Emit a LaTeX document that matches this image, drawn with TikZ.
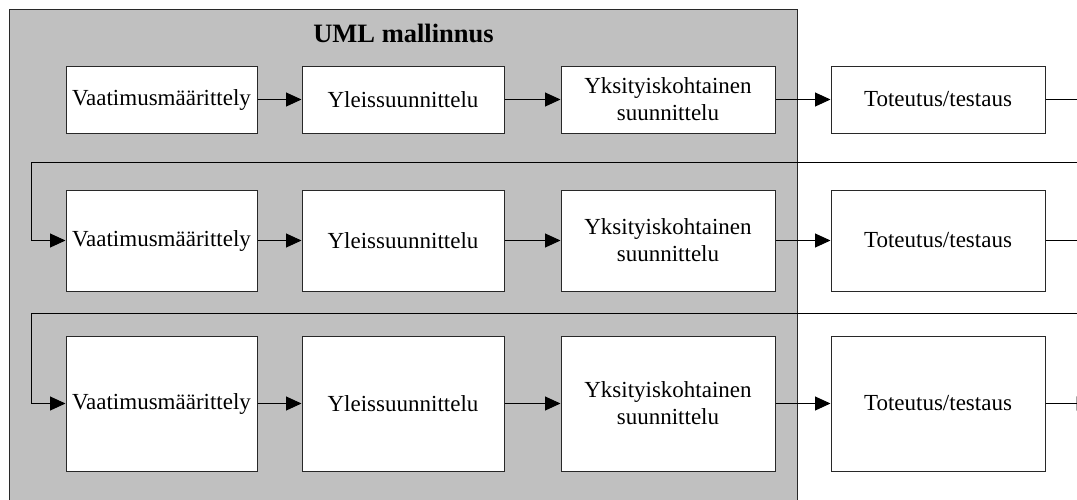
\documentclass[tikz,border=0pt]{standalone}
\usepackage{fontspec}
\setmainfont{Liberation Serif}
\usetikzlibrary{arrows.meta}
\definecolor{panelgray}{RGB}{192,192,192}
\definecolor{edge}{RGB}{40,40,40}
\begin{document}
\begin{tikzpicture}[x=1pt,y=-1pt,
  stage/.style={draw=edge, line width=1pt, fill=white, align=center,
    inner sep=0pt, font=\fontsize{23}{27}\selectfont},
  wire/.style={draw=black, line width=1pt},
  flow/.style={wire, -{Triangle[length=15.5pt,width=14pt]}},
]
\useasboundingbox (0,0) rectangle (1077,499);
\clip (0,0) rectangle (1077,499);

% UML modelling area
\filldraw[fill=panelgray, draw=edge, line width=1pt] (9,9) rectangle (797,530);
\node[anchor=base, inner sep=0pt, font=\fontsize{26.5}{30}\bfseries\selectfont] (title) at (403.5,42) {UML mallinnus};

% three iterations of the four phases
\foreach \r/\y/\h in {1/99.5/67, 2/240.5/101, 3/403.5/135} {
  \node[stage, minimum width=191, minimum height=\h] (n\r-1) at (161.5,\y) {Vaatimusmäärittely};
  \node[stage, minimum width=202, minimum height=\h] (n\r-2) at (403,\y) {Yleissuunnittelu};
  \node[stage, minimum width=214, minimum height=\h] (n\r-3) at (668,\y) {Yksityiskohtainen\\suunnittelu};
  \node[stage, minimum width=214, minimum height=\h] (n\r-4) at (938,\y) {Toteutus/testaus};
}

% flow inside each iteration
\foreach \r in {1,2,3} {
  \draw[flow] (n\r-1.east) -- (n\r-2.west);
  \draw[flow] (n\r-2.east) -- (n\r-3.west);
  \draw[flow] (n\r-3.east) -- (n\r-4.west);
}

% return to the next iteration
\coordinate (loop1) at (31,162);
\coordinate (loop2) at (31,313);
\coordinate (out3) at (1092,403.5);
\draw[flow] (n1-4.east) -- ++(60,0) |- (loop1) |- (n2-1.west);
\draw[flow] (n2-4.east) -- ++(60,0) |- (loop2) |- (n3-1.west);
\draw[flow] (n3-4.east) -- (out3);
\end{tikzpicture}
\end{document}
